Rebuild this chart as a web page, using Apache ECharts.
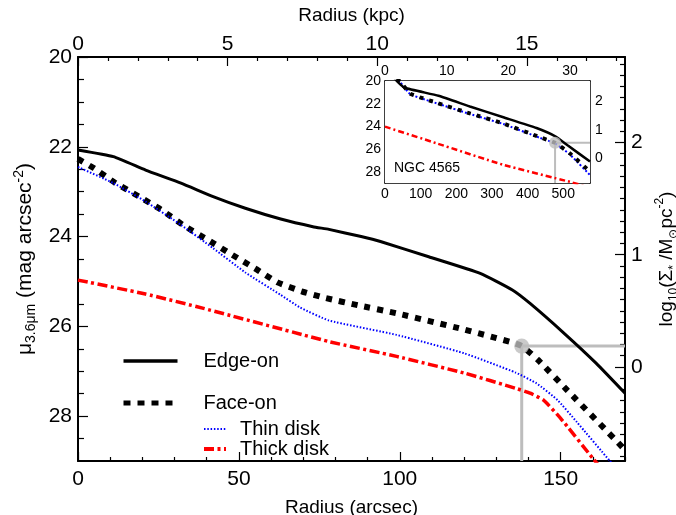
<!DOCTYPE html>
<html>
<head>
<meta charset="utf-8">
<script src="https://cdn.jsdelivr.net/npm/echarts@6/dist/echarts.min.js"></script>
<style>
  html, body { margin: 0; padding: 0; background: #fff; }
  #chart { width: 676px; height: 515px; }
</style>
</head>
<body>
<div id="chart"></div>
<script>
// main panel: radius in arcsec, surface brightness in mag/arcsec^2
const edgeR  = [0, 11, 21, 32, 42, 52, 63, 73, 78, 88, 94, 109, 125, 135, 140.5, 151, 161, 170];
const edgeMu = [22.07, 22.22, 22.52, 22.81, 23.11, 23.37, 23.61, 23.78, 23.84, 24.0, 24.11, 24.45, 24.82, 25.19, 25.49, 26.15, 26.82, 27.49];

const faceR  = [0, 5, 11.5, 19, 26, 33, 40.5, 48, 55, 62, 69.5, 77, 87, 99, 120, 135, 138, 143, 152, 170];
const faceMu = [22.27, 22.48, 22.8, 23.11, 23.41, 23.76, 24.08, 24.41, 24.71, 25.02, 25.22, 25.37, 25.53, 25.71, 26.07, 26.36, 26.44, 26.75, 27.42, 28.75];

const thinR  = [0, 11, 21, 32, 42, 52, 63, 69, 78, 99, 120, 136, 142.5, 149, 155, 165.3, 170];
const thinMu = [22.45, 22.81, 23.22, 23.74, 24.26, 24.8, 25.3, 25.58, 25.87, 26.19, 26.6, 27.03, 27.27, 27.64, 28.13, 29.0, 29.4];

const thickR  = [0, 21, 39, 78, 99, 120, 136, 140.5, 144.6, 150, 160, 170];
const thickMu = [24.97, 25.28, 25.6, 26.34, 26.67, 27.04, 27.38, 27.49, 27.64, 28.05, 28.94, 29.8];

const breakPt = [137.9, 26.44];

// inset: NGC 4565
const inEdgeR  = [10, 33, 55, 150, 238, 332, 425, 480, 513, 575];
const inEdgeMu = [19.0, 20.0, 20.6, 21.3, 22.25, 23.2, 24.15, 24.92, 25.7, 27.1];

const inFaceR  = [10, 42, 70, 98, 145, 238, 332, 435, 477, 519, 575];
const inFaceMu = [19.3, 20.05, 21.1, 21.44, 21.92, 22.86, 23.75, 24.97, 25.45, 26.4, 28.0];

const inThinR  = [10, 42, 70, 98, 145, 238, 332, 435, 477, 519, 575];
const inThinMu = [19.3, 20.1, 21.15, 21.49, 21.97, 22.91, 23.8, 25.02, 25.5, 26.5, 28.3];

const inThickR  = [0, 145, 332, 519, 575];
const inThickMu = [24.03, 25.5, 27.4, 28.9, 29.4];

const inBreakPt = [477, 25.45];

// tick labels
const muLabels = [20, 22, 24, 26, 28];
const arcsecLabels = [0, 50, 100, 150];
const kpcLabels = [0, 5, 10, 15];
const logLabels = [0, 1, 2];
const inArcsecLabels = [0, 100, 200, 300, 400, 500];
const inKpcLabels = [0, 10, 20, 30];

const FONT = '"Liberation Sans", Arial, Helvetica, sans-serif';
const GRAY = '#bdbdbd';

function pairs(xs, ys) {
  return xs.map((x, i) => [x, ys[i]]);
}

function steps(from, to, step, skip) {
  const out = [];
  for (let v = from; v <= to + 1e-9; v += step) {
    const r = Math.round(v * 1000) / 1000;
    if (!skip.some(s => Math.abs(s - r) < 1e-6)) out.push(r);
  }
  return out;
}

// one axis with labels + long ticks, one overlay with short ticks
function axisSet(grid, pos, min, max, o) {
  const base = {
    type: 'value', gridIndex: grid, position: pos, min: min, max: max,
    inverse: !!o.inverse, splitLine: { show: false }, scale: true
  };
  const major = Object.assign({}, base, {
    axisLine: { show: true, onZero: false, lineStyle: { color: '#000', width: o.lw } },
    axisTick: { show: true, inside: true, length: o.majorLen, customValues: o.majors,
                lineStyle: { color: '#000', width: 1.2 } },
    axisLabel: { show: true, customValues: o.labels, margin: o.margin, fontSize: o.size,
                 color: '#000', fontFamily: FONT }
  });
  if (o.name) {
    major.name = o.name;
    major.nameLocation = 'middle';
    major.nameGap = o.nameGap;
    if (o.nameRotate !== undefined) major.nameRotate = o.nameRotate;
    major.nameTextStyle = { fontSize: o.nameSize, color: '#000', fontFamily: FONT,
                            lineHeight: 26, rich: o.rich || {} };
  }
  const minor = Object.assign({}, base, {
    axisLine: { show: false, onZero: false },
    axisTick: { show: true, inside: true, length: o.minorLen, customValues: o.minors,
                lineStyle: { color: '#000', width: 1.2 } },
    axisLabel: { show: false }
  });
  return [major, minor];
}

function subsup(size) {
  return {
    sub: { fontSize: size, verticalAlign: 'bottom', lineHeight: size, fontFamily: FONT, color: '#000' },
    sup: { fontSize: size, verticalAlign: 'top', lineHeight: size, fontFamily: FONT, color: '#000' }
  };
}

const KPC_MAIN = 170 / 9.3;
const KPC_INSET = 575 / 17.3;

const xAxes = [].concat(
  axisSet(0, 'bottom', 0, 170, { lw: 2, majorLen: 9, minorLen: 4, size: 21, margin: 8,
    majors: arcsecLabels, labels: arcsecLabels, minors: steps(10, 170, 10, arcsecLabels),
    name: 'Radius (arcsec)', nameGap: 27, nameSize: 19 }),
  axisSet(0, 'top', 0, KPC_MAIN, { lw: 2, majorLen: 9, minorLen: 4, size: 21, margin: 2,
    majors: kpcLabels, labels: kpcLabels, minors: steps(1, 18, 1, kpcLabels),
    name: 'Radius (kpc)', nameGap: 25, nameSize: 19 }),
  axisSet(1, 'bottom', 0, 575, { lw: 1.5, majorLen: 4, minorLen: 2, size: 14, margin: 4,
    majors: inArcsecLabels, labels: inArcsecLabels, minors: steps(50, 550, 50, inArcsecLabels) }),
  axisSet(1, 'top', 0, KPC_INSET, { lw: 1.5, majorLen: 4, minorLen: 2, size: 14, margin: 3,
    majors: inKpcLabels, labels: inKpcLabels, minors: steps(1, 33, 1, inKpcLabels) })
);

const yAxes = [].concat(
  axisSet(0, 'left', 20, 29, { lw: 2, majorLen: 10, minorLen: 6, size: 21, margin: 6, inverse: true,
    majors: muLabels, labels: muLabels, minors: steps(20.5, 28.5, 0.5, muLabels),
    name: 'μ{sub|3.6μm} (mag arcsec{sup|-2})', nameGap: 31, nameSize: 21, nameRotate: 90, rich: subsup(14) }),
  axisSet(0, 'right', -0.838, 2.762, { lw: 2, majorLen: 10, minorLen: 5, size: 21, margin: 6,
    majors: logLabels, labels: logLabels, minors: steps(-0.8, 2.7, 0.1, logLabels),
    name: 'log{sub|10}(Σ{sub|*} /M{sub|⊙}pc{sup|-2})', nameGap: 20, nameSize: 19, nameRotate: 90, rich: subsup(12) }),
  axisSet(1, 'left', 20, 29, { lw: 1.5, majorLen: 4, minorLen: 2, size: 14, margin: 4, inverse: true,
    majors: muLabels, labels: muLabels, minors: steps(20.5, 28.5, 0.5, muLabels) }),
  axisSet(1, 'right', -0.88, 2.72, { lw: 1.5, majorLen: 4, minorLen: 2, size: 14, margin: 5,
    majors: logLabels, labels: logLabels, minors: steps(-0.8, 2.7, 0.1, logLabels) })
);

// axis indices: 0/1 main bottom, 2/3 main top, 4/5 inset bottom, 6/7 inset top (same for y)
const MAIN = 0, INSET = 4;

function curve(name, xs, ys, ai, style, z) {
  return {
    name: name, type: 'line', xAxisIndex: ai, yAxisIndex: ai,
    data: pairs(xs, ys), symbol: 'none', smooth: 0.15,
    lineStyle: style, itemStyle: { color: style.color }, z: z || 3, silent: true
  };
}

function breakLines(pt, xMax, ai, w, size, z) {
  return [
    {
      type: 'line', xAxisIndex: ai, yAxisIndex: ai, symbol: 'none', z: z, silent: true,
      data: [[pt[0], 29], [pt[0], pt[1]], [xMax, pt[1]]],
      lineStyle: { color: GRAY, width: w }
    },
    {
      type: 'scatter', xAxisIndex: ai, yAxisIndex: ai, z: z + 4, silent: true,
      data: [pt], symbolSize: size, itemStyle: { color: GRAY }
    }
  ];
}

const legendBase = {
  orient: 'vertical', selectedMode: false, itemHeight: 12, padding: 0,
  itemStyle: { opacity: 0 }
};

const option = {
  animation: false,
  textStyle: { fontFamily: FONT },
  grid: [
    { left: 78, right: 51, top: 57, bottom: 54, containLabel: false, outerBoundsMode: 'none' },
    { left: 385, top: 81, width: 205, height: 102, show: true, backgroundColor: '#fff',
      borderWidth: 0, z: 5, outerBoundsMode: 'none' }
  ],
  xAxis: xAxes,
  yAxis: yAxes,
  legend: [
    Object.assign({}, legendBase, {
      data: [
        { name: 'Edge-on', lineStyle: { width: 3.5 } },
        { name: 'Face-on', lineStyle: { width: 5, type: [7, 7] } }
      ],
      left: 121, top: 351, itemWidth: 54, itemGap: 22,
      textStyle: { fontSize: 20, lineHeight: 20, color: '#000', fontFamily: FONT, padding: [0, 0, 0, 21] }
    }),
    Object.assign({}, legendBase, {
      data: [
        { name: 'Thin disk', lineStyle: { width: 2 } },
        { name: 'Thick disk', lineStyle: { width: 4 } }
      ],
      left: 202, top: 419, itemWidth: 22, itemGap: 0,
      textStyle: { fontSize: 20, lineHeight: 18, color: '#000', fontFamily: FONT, padding: [0, 0, 0, 9] }
    })
  ],
  graphic: [
    {
      type: 'text', left: 394, top: 161, z: 100,
      style: { text: 'NGC 4565', fontSize: 14, fill: '#000', fontFamily: FONT }
    }
  ],
  series: [].concat(
    breakLines(breakPt, 170, MAIN, 3, 15, 2),
    [
      curve('Edge-on', edgeR, edgeMu, MAIN, { color: '#000', width: 3 }),
      curve('Face-on', faceR, faceMu, MAIN, { color: '#000', width: 6, type: [6, 7] }),
      curve('Thin disk', thinR, thinMu, MAIN, { color: '#0000ff', width: 2, type: [1.5, 1.8] }),
      curve('Thick disk', thickR, thickMu, MAIN, { color: '#ff0000', width: 3.5, type: [10, 3.5, 3, 3.5] })
    ],
    breakLines(inBreakPt, 575, INSET, 2, 12, 11),
    [
      curve('Thick disk', inThickR, inThickMu, INSET, { color: '#ff0000', width: 2.5, type: [6, 3, 2, 3] }, 12),
      curve('Thin disk', inThinR, inThinMu, INSET, { color: '#0000ff', width: 2, type: [2, 2] }, 12),
      curve('Face-on', inFaceR, inFaceMu, INSET, { color: '#000', width: 4, type: [4, 6] }, 13),
      curve('Edge-on', inEdgeR, inEdgeMu, INSET, { color: '#000', width: 2.5 }, 13)
    ]
  )
};

const chart = echarts.init(document.getElementById('chart'));
chart.setOption(option);
window.addEventListener('resize', () => chart.resize());
</script>
</body>
</html>
